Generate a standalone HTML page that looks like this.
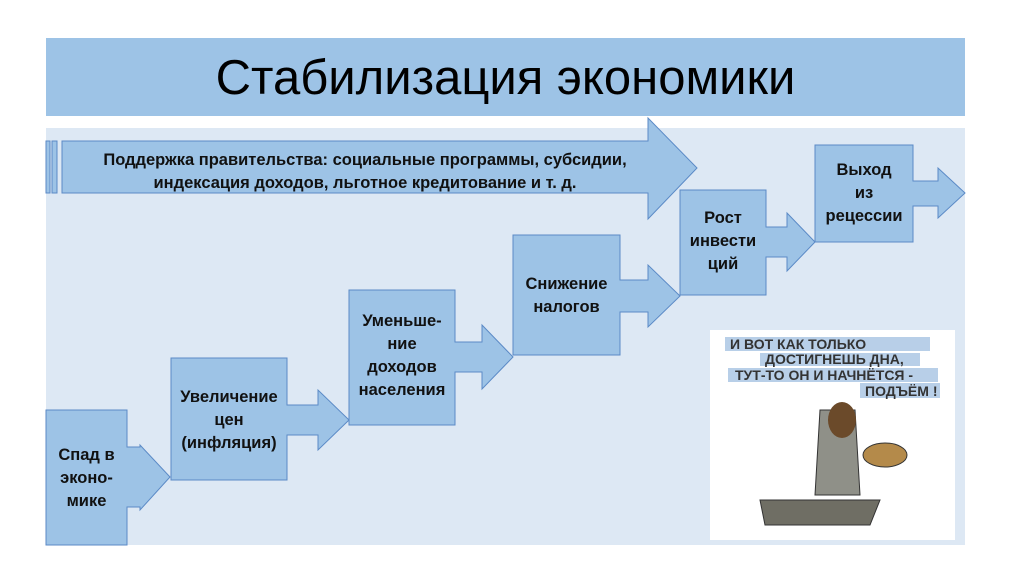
<!DOCTYPE html>
<html><head><meta charset="utf-8"><style>
body{margin:0;width:1024px;height:574px;background:#fff;position:relative;overflow:hidden;font-family:"Liberation Sans","DejaVu Sans",sans-serif}
.t{position:absolute;text-align:center;font-weight:bold;font-size:16.5px;line-height:23px;color:#111;white-space:nowrap}
</style></head><body>
<div style="position:absolute;left:46px;top:38px;width:919px;height:78px;background:#9dc3e6"></div>
<div style="position:absolute;left:46px;top:48px;width:919px;text-align:center;font-size:49px;line-height:60px;color:#000">Стабилизация экономики</div>
<div style="position:absolute;left:46px;top:128px;width:919px;height:417px;background:#dde8f4"></div>
<svg width="1024" height="574" style="position:absolute;left:0;top:0">
<g fill="#9dc3e6" stroke="#5b8ac6" stroke-width="1">
<rect x="46" y="141" width="4" height="52"/><rect x="52" y="141" width="5" height="52"/>
<polygon points="62,141 648,141 648,118 697,168 648,219 648,193 62,193"/>
<polygon points="46,410 127,410 127,447 140,447 140,445 170,477 140,510 140,507 127,507 127,545 46,545"/>
<polygon points="171,358 287,358 287,405 318,405 318,390 349,420 318,450 318,435 287,435 287,480 171,480"/>
<polygon points="349,290 455,290 455,342 482,342 482,325 513,357 482,389 482,372 455,372 455,425 349,425"/>
<polygon points="513,235 620,235 620,280 648,280 648,265 680,296 648,327 648,312 620,312 620,355 513,355"/>
<polygon points="680,190 766,190 766,227 787,227 787,213 815,242 787,271 787,257 766,257 766,295 680,295"/>
<polygon points="815,145 913,145 913,181 938,181 938,168 965,193 938,218 938,206 913,206 913,242 815,242"/>
</g>
<rect x="710" y="330" width="245" height="210" fill="#fff"/>
<g fill="#b8cfe8"><rect x="725" y="337" width="205" height="14"/><rect x="760" y="353" width="160" height="13"/><rect x="728" y="368" width="210" height="14"/><rect x="860" y="383" width="80" height="15"/></g>
<g font-family="Liberation Sans,sans-serif" font-size="14" font-weight="bold" fill="#333">
<text x="730" y="349">И ВОТ КАК ТОЛЬКО</text><text x="765" y="364">ДОСТИГНЕШЬ ДНА,</text><text x="735" y="380">ТУТ-ТО ОН И НАЧНЁТСЯ -</text><text x="865" y="396">ПОДЪЁМ !</text></g>
<path d="M760 500 L880 500 L870 525 L765 525 Z" fill="#6f6e64" stroke="#333"/>
<path d="M820 410 L855 410 L860 495 L815 495 Z" fill="#8f9088" stroke="#333"/>
<ellipse cx="842" cy="420" rx="14" ry="18" fill="#6b4a2a"/>
<ellipse cx="885" cy="455" rx="22" ry="12" fill="#b48a4a" stroke="#333"/>
</svg>
<div class="t" style="left:60px;top:149px;width:610px">Поддержка правительства: социальные программы, субсидии,<br>индексация доходов, льготное кредитование и т. д.</div>
<div class="t" style="left:46px;top:444px;width:81px">Спад в<br>эконо-<br>мике</div>
<div class="t" style="left:171px;top:386px;width:116px">Увеличение<br>цен<br>(инфляция)</div>
<div class="t" style="left:349px;top:310px;width:106px">Уменьше-<br>ние<br>доходов<br>населения</div>
<div class="t" style="left:513px;top:273px;width:107px">Снижение<br>налогов</div>
<div class="t" style="left:680px;top:207px;width:86px">Рост<br>инвести<br>ций</div>
<div class="t" style="left:815px;top:159px;width:98px">Выход<br>из<br>рецессии</div>
</body></html>
